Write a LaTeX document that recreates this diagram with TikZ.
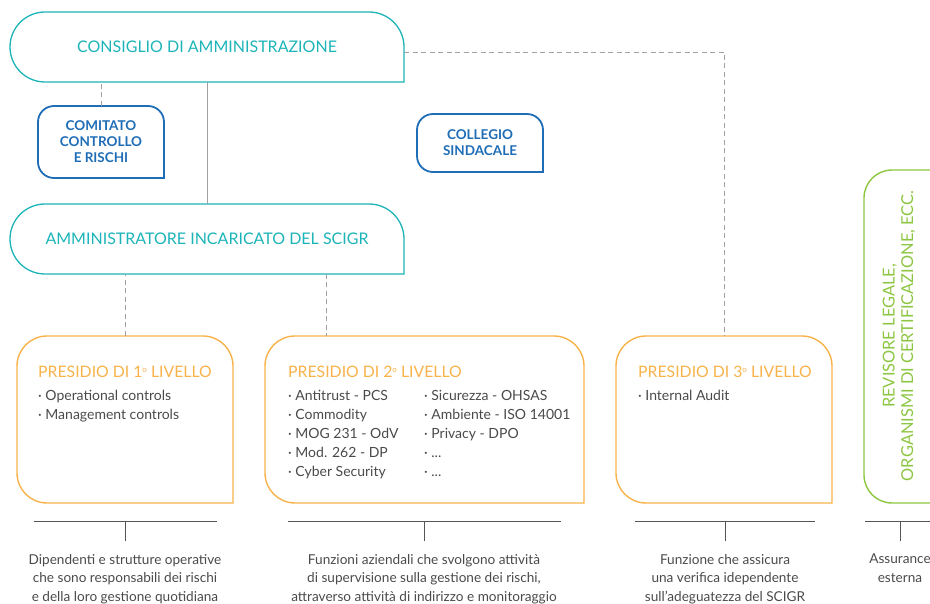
\documentclass[tikz,border=0pt]{standalone}
\usepackage{fontspec}
\setmainfont{Lato}
\usetikzlibrary{calc}
\definecolor{cTeal}{HTML}{1CB4B8}
\definecolor{cBlue}{HTML}{1F6DB6}
\definecolor{cOrange}{HTML}{F8B24A}
\definecolor{cGreen}{HTML}{8DC641}
\definecolor{cLine}{HTML}{A0A0A0}
\definecolor{cDark}{HTML}{555555}
\definecolor{cText}{HTML}{4A4A4A}
\newcommand\boxoutline[3]{%
 \draw[#3] let \p1=(#1.south west), \p2=(#1.north east) in
 (\x2,\y1) -- (\x1+#2,\y1) arc[start angle=270,end angle=180,radius=#2]
 -- (\x1,\y2-#2) arc[start angle=180,end angle=90,radius=#2]
 -- (\x2-#2,\y2) arc[start angle=90,end angle=0,radius=#2] -- cycle;}
\newcommand\ordo{\raisebox{0.6ex}{\fontsize{8}{8}\selectfont o}}
\tikzset{
 frame/.style={inner sep=0pt, outer sep=0pt, anchor=north west},
 tealline/.style={draw=cTeal, line width=1.3pt},
 blueline/.style={draw=cBlue, line width=1.8pt},
 orangeline/.style={draw=cOrange, line width=1.4pt},
 greenline/.style={draw=cGreen, line width=1.4pt},
 dashcon/.style={draw=cLine, line width=0.9pt, dash pattern=on 5pt off 3.5pt},
 solidcon/.style={draw=cLine, line width=1pt},
 bracket/.style={draw=cDark, line width=0.8pt},
 bigtitle/.style={text=cTeal, font=\fontsize{16}{19}\selectfont},
 smalltitle/.style={text=cBlue, font=\fontsize{13.5}{16}\selectfont\bfseries, align=center},
 lvltitle/.style={text=cOrange, font=\fontsize{15.8}{18}\selectfont, anchor=west, inner sep=0pt},
 items/.style={text=cText, font=\fontsize{14}{19}\selectfont, align=left, anchor=north west, inner sep=0pt},
 note/.style={text=cText, font=\fontsize{13.6}{18.5}\selectfont, align=center, anchor=north, inner sep=0pt},
}
\begin{document}
\begin{tikzpicture}[x=1pt,y=-1pt]
\useasboundingbox (0,0) rectangle (930,604);
% main boxes
\node[frame, minimum width=394pt, minimum height=70pt, bigtitle] (cda) at (10,12) {CONSIGLIO DI AMMINISTRAZIONE};
\boxoutline{cda}{35pt}{tealline}
\node[frame, minimum width=126pt, minimum height=72pt, smalltitle] (ccr) at (38,106) {COMITATO\\CONTROLLO\\E RISCHI};
\boxoutline{ccr}{16pt}{blueline}
\node[frame, minimum width=126pt, minimum height=58pt, smalltitle] (cs) at (417,114) {COLLEGIO\\SINDACALE};
\boxoutline{cs}{16pt}{blueline}
\node[frame, minimum width=394pt, minimum height=70pt, bigtitle] (ai) at (10,204) {AMMINISTRATORE INCARICATO DEL SCIGR};
\boxoutline{ai}{35pt}{tealline}
% level boxes
\node[frame, minimum width=216pt, minimum height=167pt] (l1) at (17,336) {};
\boxoutline{l1}{30pt}{orangeline}
\node[frame, minimum width=319pt, minimum height=167pt] (l2) at (265,336) {};
\boxoutline{l2}{30pt}{orangeline}
\node[frame, minimum width=216pt, minimum height=167pt] (l3) at (616,336) {};
\boxoutline{l3}{30pt}{orangeline}
\node[frame, minimum width=110pt, minimum height=333pt] (aud) at (864,170) {};
\boxoutline{aud}{28pt}{greenline}
% titles and items
\node[lvltitle] (t1) at (38,372) {PRESIDIO DI 1\ordo\ LIVELLO};
\node[items] (i1) at (38,390) {· Operational controls\\· Management controls};
\node[lvltitle] (t2) at (288,372) {PRESIDIO DI 2\ordo\ LIVELLO};
\node[items] (i2a) at (288,390) {· Antitrust - PCS\\· Commodity\\· MOG 231 - OdV\\· Mod. 262 - DP\\· Cyber Security};
\node[items] (i2b) at (424,390) {· Sicurezza - OHSAS\\· Ambiente - ISO 14001\\· Privacy - DPO\\· ...\\· ...};
\node[lvltitle] (t3) at (638,372) {PRESIDIO DI 3\ordo\ LIVELLO};
\node[items] (i3) at (638,390) {· Internal Audit};
\node[rotate=90, align=center, text=cGreen, font=\fontsize{16.4}{18.5}\selectfont] (revt) at (899,336) {REVISORE LEGALE,\\ORGANISMI DI CERTIFICAZIONE, ECC.};
% connectors
\draw[dashcon] ([yshift=-5pt]cda.east) -| (l3.north);
\draw[dashcon] (ccr.north) -- (ccr.north |- cda.south);
\draw[solidcon] (cda.south) -- (ai.north);
\draw[dashcon] (l1.north) -- (l1.north |- ai.south);
\draw[dashcon] ([xshift=119pt]ai.south) coordinate (a2) -- (a2 |- l2.north);
% bottom notes
\node[note] (n1) at (125,554) {Dipendenti e strutture operative\\che sono responsabili dei rischi\\e della loro gestione quotidiana};
\node[note] (n2) at (424,554) {Funzioni aziendali che svolgono attività\\di supervisione sulla gestione dei rischi,\\attraverso attività di indirizzo e monitoraggio};
\node[note] (n3) at (725,554) {Funzione che assicura\\una verifica idependente\\sull’adeguatezza del SCIGR};
\node[note] (n4) at (900,554) {Assurance\\esterna};
\draw[bracket] (34,521) -- (217,521) (125,521) -- (125,541);
\draw[bracket] (288,521) -- (561,521) (424,521) -- (424,541);
\draw[bracket] (635,521) -- (815,521) (725,521) -- (725,541);
\draw[bracket] (865,521) -- (940,521) (900,521) -- (900,541);
\end{tikzpicture}
\end{document}
